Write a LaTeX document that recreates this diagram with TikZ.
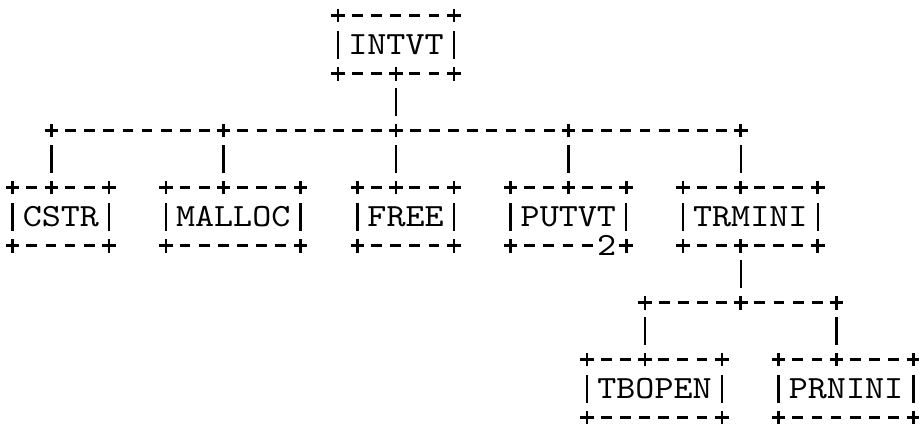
\documentclass[tikz,border=0pt]{standalone}
\usepackage{fontspec}
\newfontfamily\ttx[FakeStretch=1.12]{lmmono10-regular.otf}
\usetikzlibrary{positioning}
\def\cw{9.575pt}

\begin{document}
\begin{tikzpicture}[x=9.575pt, y=-14.335pt,
  modbox/.style={inner sep=0pt, minimum height=28.67pt, font={\ttx\fontsize{16.2}{18}\selectfont}},
  hline/.style={line width=1.3pt, dash pattern=on 5.4pt off 4.175pt, dash phase=2.7pt},
  bar/.style={line width=1.2pt},
  vconn/.style={line width=1.2pt, shorten <=7.3pt, shorten >=7.3pt},
  pics/junc/.style={code={\draw[line width=1.3pt] (-3.4pt,0) -- (3.4pt,0) (0,-3.4pt) -- (0,3.4pt);}}]
  \useasboundingbox (-0.679,-0.558) rectangle (47.31,14.196);

  % modules
  \node[modbox, minimum width=6*\cw] (intvt)  at (20,1)    {INTVT};
  \node[modbox, minimum width=5*\cw] (cstr)   at (2.5,7)   {CSTR};
  \node[modbox, minimum width=7*\cw] (malloc) at (11.5,7)  {MALLOC};
  \node[modbox, minimum width=5*\cw] (free)   at (20.5,7)  {FREE};
  \node[modbox, minimum width=6*\cw] (putvt)  at (29,7)    {PUTVT};
  \node[modbox, minimum width=7*\cw] (trmini) at (38.5,7)  {TRMINI};
  \node[modbox, minimum width=7*\cw] (tbopen) at (33.5,13) {TBOPEN};
  \node[modbox, minimum width=7*\cw] (prnini) at (43.5,13) {PRNINI};

  % junctions on the buses
  \coordinate (t1) at (2,4);
  \coordinate (t2) at (11,4);
  \coordinate (t3) at (20,4);
  \coordinate (t4) at (29,4);
  \coordinate (t5) at (38,4);
  \coordinate (t6) at (33,10);
  \coordinate (t7) at (38,10);
  \coordinate (t8) at (43,10);

  % box outlines
  \foreach \n in {intvt,cstr,malloc,free,putvt,trmini,tbopen,prnini} {
    \draw[hline] (\n.north west) -- (\n.north east);
    \draw[hline] (\n.south west) -- (\n.south east);
    \draw[bar] (\n.west) +(0,-7pt) -- +(0,7pt) (\n.east) +(0,-7pt) -- +(0,7pt);
    \foreach \a in {north west,north east,south west,south east}
      \pic at (\n.\a) {junc};
  }
  \node[modbox, minimum height=0pt, inner sep=0.5pt, fill=white] (putvtnum) at (31,8) {2};

  % calls
  \draw[vconn] (intvt.south) -- (t3);
  \pic at (intvt.south) {junc};
  \draw[hline] (t1) -- (t5);
  \foreach \c/\n in {t1/cstr,t2/malloc,t3/free,t4/putvt,t5/trmini,t6/tbopen,t8/prnini} {
    \draw[vconn] (\c) -- (\c |- \n.north);
    \pic at (\c) {junc};
    \pic at (\c |- \n.north) {junc};
  }
  \draw[vconn] (trmini.south -| t7) -- (t7);
  \pic at (trmini.south -| t7) {junc};
  \pic at (t7) {junc};
  \draw[hline] (t6) -- (t8);
\end{tikzpicture}
\end{document}
